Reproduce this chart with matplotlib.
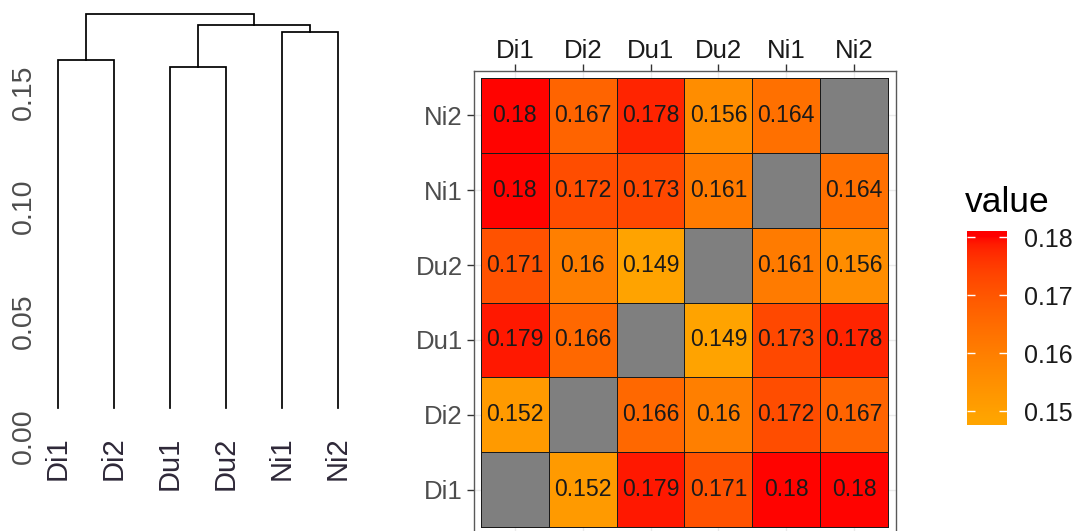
import numpy as np
import matplotlib
matplotlib.use('Agg')
import matplotlib.pyplot as plt
from matplotlib.colors import ListedColormap, Normalize, to_rgb

plt.rcParams['font.family'] = ['Liberation Sans', 'DejaVu Sans']

samples = ['Di1', 'Di2', 'Du1', 'Du2', 'Ni1', 'Ni2']
nan = np.nan
# pairwise distances, rows/cols in sample order
dist = np.array([
    [nan, 0.152, 0.179, 0.171, 0.180, 0.180],
    [0.152, nan, 0.166, 0.160, 0.172, 0.167],
    [0.179, 0.166, nan, 0.149, 0.173, 0.178],
    [0.171, 0.160, 0.149, nan, 0.161, 0.156],
    [0.180, 0.172, 0.173, 0.161, nan, 0.164],
    [0.180, 0.167, 0.178, 0.156, 0.164, nan],
])
# clustering tree (average linkage heights are computed from dist)
tree = (('Di1', 'Di2'), (('Du1', 'Du2'), ('Ni1', 'Ni2')))
dend_ticks = [0.00, 0.05, 0.10, 0.15]
dend_ticklabels = ['0.00', '0.05', '0.10', '0.15']
bar_ticks = [0.15, 0.16, 0.17, 0.18]
fill_limits = (0.1485, 0.1802)
low_col, high_col = '#FFA500', '#FF0000'

W, H = 1085, 531
fig = plt.figure(figsize=(W / 100, H / 100), dpi=100)


def box(l, t, r, b):
    return [l / W, 1 - b / H, (r - l) / W, (b - t) / H]


# gradient interpolated in CIE Lab, like ggplot's scale_fill_gradient
M = np.array([[0.4124, 0.3576, 0.1805],
              [0.2126, 0.7152, 0.0722],
              [0.0193, 0.1192, 0.9505]])
white = M @ np.ones(3)


def to_lab(c):
    c = np.array(to_rgb(c))
    lin = np.where(c <= 0.04045, c / 12.92, ((c + 0.055) / 1.055) ** 2.4)
    xyz = M @ lin / white
    f = np.where(xyz > 0.008856, np.cbrt(xyz), 7.787 * xyz + 16 / 116)
    return np.array([116 * f[1] - 16, 500 * (f[0] - f[1]), 200 * (f[1] - f[2])])


def from_lab(lab):
    fy = (lab[0] + 16) / 116
    f = np.array([fy + lab[1] / 500, fy, fy - lab[2] / 200])
    xyz = np.where(f ** 3 > 0.008856, f ** 3, (f - 16 / 116) / 7.787) * white
    lin = np.linalg.solve(M, xyz)
    c = np.where(lin <= 0.0031308, 12.92 * lin, 1.055 * np.clip(lin, 0, None) ** (1 / 2.4) - 0.055)
    return np.clip(c, 0, 1)


lab_lo, lab_hi = to_lab(low_col), to_lab(high_col)
cmap = ListedColormap([from_lab(lab_lo + t * (lab_hi - lab_lo)) for t in np.linspace(0, 1, 256)])
cmap.set_bad('#7F7F7F')
norm = Normalize(*fill_limits, clip=True)

# ---- dendrogram ----
ax_d = fig.add_axes(box(44, -2, 352, 427.5))


def draw(node):
    if isinstance(node, str):
        return samples.index(node) + 1, 0.0, [node]
    xl, hl, ll = draw(node[0])
    xr, hr, lr = draw(node[1])
    h = np.mean([dist[samples.index(a), samples.index(b)] for a in ll for b in lr])
    ax_d.plot([xl, xl, xr, xr], [hl, h, h, hr], color='black', lw=1.25,
              solid_joinstyle='miter')
    return (xl + xr) / 2, h, ll + lr


draw(tree)
ax_d.set_xlim(0.75, 6.25)
ax_d.set_ylim(-0.0085, 0.179)
ax_d.set_xticks(range(1, 7), samples, rotation=90, va='top', fontsize=21,
                color='#2e2838')
ax_d.set_yticks(dend_ticks, dend_ticklabels, rotation=90, va='top', fontsize=20.5,
                color='#4D4D4D')
ax_d.tick_params(axis='x', length=0, pad=6.5)
ax_d.tick_params(axis='y', length=0, pad=5)
for s in ax_d.spines.values():
    s.set_visible(False)

# ---- heatmap ----
ax_h = fig.add_axes(box(474, 71, 896, 534))
ax_h.set_axisbelow(True)
ax_h.grid(color='#EBEBEB', lw=1)
ax_h.pcolormesh(np.arange(7), np.arange(7), np.ma.masked_invalid(dist),
                cmap=cmap, norm=norm, edgecolors='#1a1a1a', linewidth=0.6)
for i in range(6):
    for j in range(6):
        v = dist[i, j]
        if not np.isnan(v):
            ax_h.text(j + 0.5, i + 0.5, f'{v:g}', ha='center', va='center',
                      fontsize=16.6, color='#1a1a1a')

ax_h.set_xlim(-0.103, 6.118)
ax_h.set_ylim(-0.094, 6.094)
ax_h.set_xticks(np.arange(6) + 0.5, samples)
ax_h.set_yticks(np.arange(6) + 0.5, samples)
ax_h.xaxis.tick_top()
ax_h.tick_params(length=5, width=1, color='#333333')
ax_h.tick_params(axis='x', pad=1, labelsize=18.5, labelcolor='#1a1a1a')
ax_h.tick_params(axis='y', pad=3, labelsize=18.5, labelcolor='#4D4D4D')
for s in ax_h.spines.values():
    s.set_color('#595959')
    s.set_linewidth(1)

# ---- colour legend: bar runs half a bin past each limit ----
span = fill_limits[1] - fill_limits[0]
bar_lo = fill_limits[0] - span * 0.5 / 19
bar_hi = fill_limits[1] + span * 0.5 / 19
cax = fig.add_axes(box(967, 231, 1007, 425))
grad = np.linspace(bar_lo, bar_hi, 300)[:, None]
cax.imshow(cmap(norm(grad)), aspect='auto', origin='lower',
           extent=(0, 1, bar_lo, bar_hi), interpolation='bilinear')
cax.set_xlim(0, 1)
cax.set_ylim(bar_lo, bar_hi)
cax.set_xticks([])
cax.set_yticks(bar_ticks, [f'{t:g}' for t in bar_ticks])
cax.yaxis.set_ticks_position('both')
cax.tick_params(axis='y', left=True, right=True, labelleft=False, labelright=True,
                direction='in', length=5.5, width=1, color='white',
                labelsize=18, labelcolor='#1A1A1A', pad=12)
for s in cax.spines.values():
    s.set_visible(False)
fig.text(965 / W, 1 - 212 / H, 'value', fontsize=25.5, ha='left', va='baseline',
         color='black')

fig.savefig('out.png', dpi=100)
